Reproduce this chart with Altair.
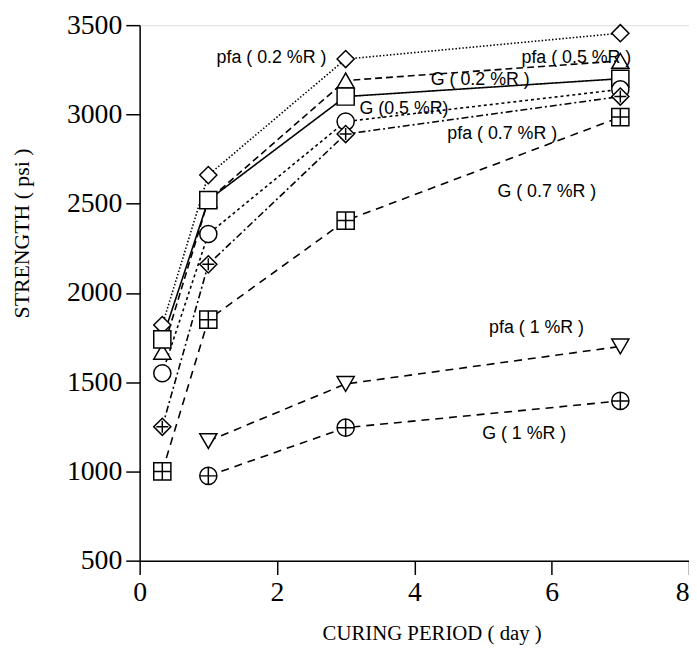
import altair as alt
import pandas as pd

# ---- data ----
series_ids = ["pfa02", "pfa05", "g02", "g05", "pfa07", "g07", "pfa1", "g1"]

days_early = [0.33, 1, 3, 7]
days_late = [1, 3, 7]

pfa02 = [1820, 2660, 3310, 3455]
pfa05 = [1670, 2520, 3190, 3300]
g02 = [1740, 2520, 3100, 3200]
g05 = [1550, 2330, 2960, 3140]
pfa07 = [1250, 2160, 2890, 3100]
g07 = [1000, 1850, 2405, 2985]
pfa1 = [1170, 1490, 1700]
g1 = [975, 1245, 1395]

label_texts = ["pfa ( 0.2 %R )", "pfa ( 0.5 %R )", "G ( 0.2 %R )", "G (0.5 %R)",
               "pfa ( 0.7 %R )", "G ( 0.7 %R )", "pfa ( 1 %R )", "G ( 1 %R )"]
label_x = [1.92, 6.36, 4.96, 3.85, 5.28, 5.93, 5.78, 5.6]
label_y = [3313, 3315, 3190, 3030, 2890, 2564, 1804, 1210]

x_ticks = [0, 2, 4, 6, 8]
y_ticks = [500, 1000, 1500, 2000, 2500, 3000, 3500]

dashes = [[1.5, 2], [7, 4], [1, 0], [3, 3], [7, 3, 2, 3], [8, 6], [8, 6], [8, 6]]
shapes = [
    "diamond",
    "triangle-up",
    "square",
    "circle",
    "M0,-1L1,0L0,1L-1,0Z M-0.7,0H0.7 M0,-0.7V0.7",
    "M-1,-1H1V1H-1Z M-1,0H1 M0,-1V1",
    "triangle-down",
    "M-1,0A1,1 0 1,1 1,0A1,1 0 1,1 -1,0Z M-1,0H1 M0,-1V1",
]

values = [pfa02, pfa05, g02, g05, pfa07, g07, pfa1, g1]
rows = []
for sid, vals in zip(series_ids, values):
    ds = days_early if len(vals) == 4 else days_late
    for d, v in zip(ds, vals):
        rows.append({"series": sid, "day": d, "strength": v})
df = pd.DataFrame(rows)

labels_df = pd.DataFrame({"x": label_x, "y": label_y, "text": label_texts})

x_enc = alt.X(
    "day:Q",
    scale=alt.Scale(domain=[0, 8], nice=False, zero=False),
    axis=alt.Axis(
        values=x_ticks, format="d", grid=False,
        labelFont="Liberation Serif", labelFontSize=28, labelColor="black",
        labelPadding=4, labelFlush=False, labelOverlap=False,
        labelAlign=alt.ExprRef(expr="datum.value == 8 ? 'right' : 'center'"),
        tickSize=14, tickColor="black", tickWidth=1.5,
        domainColor="black", domainWidth=1.5,
        title="CURING PERIOD ( day )", titleFont="Liberation Serif",
        titleFontSize=21, titleFontWeight="normal", titleColor="black",
        titleX=295, titleY=74, titleAlign="center", titleBaseline="middle",
    ),
)
y_enc = alt.Y(
    "strength:Q",
    scale=alt.Scale(domain=[500, 3500], nice=False, zero=False),
    axis=alt.Axis(
        values=y_ticks, format="d", grid=False,
        labelFont="Liberation Serif", labelFontSize=28, labelColor="black",
        labelPadding=4, labelFlush=False, labelOverlap=False,
        tickSize=14, tickColor="black", tickWidth=1.5,
        domainColor="black", domainWidth=1.5,
        title="STRENGTH ( psi )", titleFont="Liberation Serif",
        titleFontSize=22, titleFontWeight="normal", titleColor="black",
        titleAngle=270, titleX=-119, titleY=210, titleAlign="center",
        titleBaseline="middle",
    ),
)

lines = alt.Chart(df).mark_line(color="black", strokeWidth=1.6).encode(
    x=x_enc,
    y=y_enc,
    detail="series:N",
    order="day:Q",
    strokeDash=alt.StrokeDash("series:N", scale=alt.Scale(domain=series_ids, range=dashes), legend=None),
)

points = alt.Chart(df).mark_point(
    filled=True, fill="white", stroke="black", strokeWidth=1.5,
    size=300, opacity=1, fillOpacity=1, strokeOpacity=1,
).encode(
    x="day:Q",
    y="strength:Q",
    shape=alt.Shape("series:N", scale=alt.Scale(domain=series_ids, range=shapes), legend=None),
)

texts = alt.Chart(labels_df).mark_text(
    font="Liberation Sans", fontSize=18, color="black", align="center", baseline="middle"
).encode(x="x:Q", y="y:Q", text="text:N")

chart = alt.layer(lines, points, texts).properties(
    width=555,
    height=541,
    padding={"left": 133, "top": 14, "right": 0, "bottom": 94},
    autosize=alt.AutoSizeParams(type="none"),
).configure_view(stroke="black", strokeWidth=1.5).configure(background="white")

chart.save("out.html", embed_options={"renderer": "svg", "actions": False})
